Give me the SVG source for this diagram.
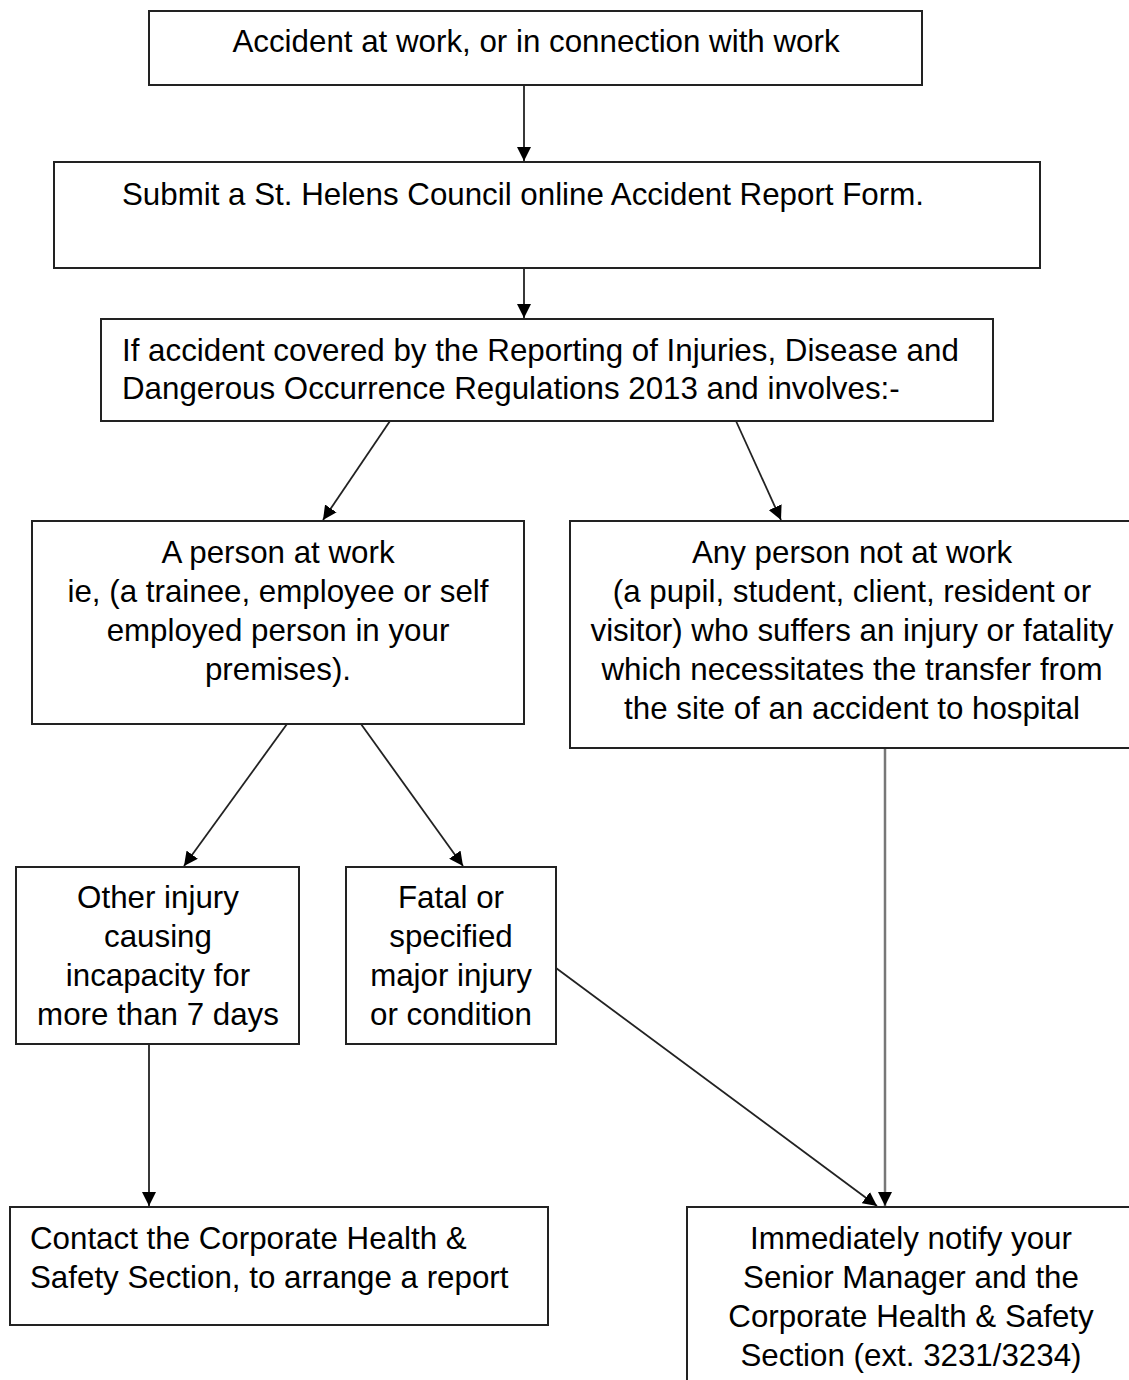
<svg xmlns="http://www.w3.org/2000/svg" width="1129" height="1380" viewBox="0 0 1129 1380">
<style>
.box{fill:#fff;stroke:#222;stroke-width:2}
text{font-family:"Liberation Sans",Arial,sans-serif;font-size:31.3px;fill:#000}
.c{text-anchor:middle}
.conn{stroke:#222;stroke-width:1.8;fill:none;marker-end:url(#ah)}
.gray{stroke:#777;stroke-width:2.5}
</style>
<defs>
<marker id="ah" viewBox="0 0 10 10" refX="10" refY="5" markerWidth="14" markerHeight="14" markerUnits="userSpaceOnUse" orient="auto">
<path d="M0,0 L10,5 L0,10 z" fill="#000"/>
</marker>
</defs>
<rect width="1129" height="1380" fill="#fff"/>
<g id="connectors">
<line class="conn" x1="524" y1="85" x2="524" y2="161"/>
<line class="conn" x1="524" y1="268" x2="524" y2="318"/>
<line class="conn" x1="390" y1="421" x2="323" y2="520"/>
<line class="conn" x1="736" y1="421" x2="781" y2="520"/>
<line class="conn" x1="287" y1="724" x2="184" y2="866"/>
<line class="conn" x1="361" y1="724" x2="463" y2="866"/>
<line class="conn gray" x1="885" y1="748" x2="885" y2="1206"/>
<line class="conn" x1="556" y1="968" x2="877" y2="1206"/>
<line class="conn" x1="149" y1="1044" x2="149" y2="1206"/>
</g>
<g id="n1">
<rect class="box" x="149" y="11" width="773" height="74"/>
<text class="c" x="536" y="52">Accident at work, or in connection with work</text>
</g>
<g id="n2">
<rect class="box" x="54" y="162" width="986" height="106"/>
<text x="122" y="205">Submit a St. Helens Council online Accident Report Form.</text>
</g>
<g id="n3">
<rect class="box" x="101" y="319" width="892" height="102"/>
<text x="122" y="361">If accident covered by the Reporting of Injuries, Disease and</text>
<text x="122" y="399">Dangerous Occurrence Regulations 2013 and involves:-</text>
</g>
<g id="n4">
<rect class="box" x="32" y="521" width="492" height="203"/>
<text class="c" x="278" y="563">A person at work</text>
<text class="c" x="278" y="602">ie, (a trainee, employee or self</text>
<text class="c" x="278" y="641">employed person in your</text>
<text class="c" x="278" y="680">premises).</text>
</g>
<g id="n5">
<rect class="box" x="570" y="521" width="570" height="227"/>
<text class="c" x="852" y="563">Any person not at work</text>
<text class="c" x="852" y="602">(a pupil, student, client, resident or</text>
<text class="c" x="852" y="641">visitor) who suffers an injury or fatality</text>
<text class="c" x="852" y="680">which necessitates the transfer from</text>
<text class="c" x="852" y="719">the site of an accident to hospital</text>
</g>
<g id="n6">
<rect class="box" x="16" y="867" width="283" height="177"/>
<text class="c" x="158" y="908">Other injury</text>
<text class="c" x="158" y="947">causing</text>
<text class="c" x="158" y="986">incapacity for</text>
<text class="c" x="158" y="1025">more than 7 days</text>
</g>
<g id="n7">
<rect class="box" x="346" y="867" width="210" height="177"/>
<text class="c" x="451" y="908">Fatal or</text>
<text class="c" x="451" y="947">specified</text>
<text class="c" x="451" y="986">major injury</text>
<text class="c" x="451" y="1025">or condition</text>
</g>
<g id="n8">
<rect class="box" x="10" y="1207" width="538" height="118"/>
<text x="30" y="1249">Contact the Corporate Health &amp;</text>
<text x="30" y="1288">Safety Section, to arrange a report</text>
</g>
<g id="n9">
<rect class="box" x="687" y="1207" width="460" height="190"/>
<text class="c" x="911" y="1249">Immediately notify your</text>
<text class="c" x="911" y="1288">Senior Manager and the</text>
<text class="c" x="911" y="1327">Corporate Health &amp; Safety</text>
<text class="c" x="911" y="1366">Section (ext. 3231/3234)</text>
</g>
</svg>
